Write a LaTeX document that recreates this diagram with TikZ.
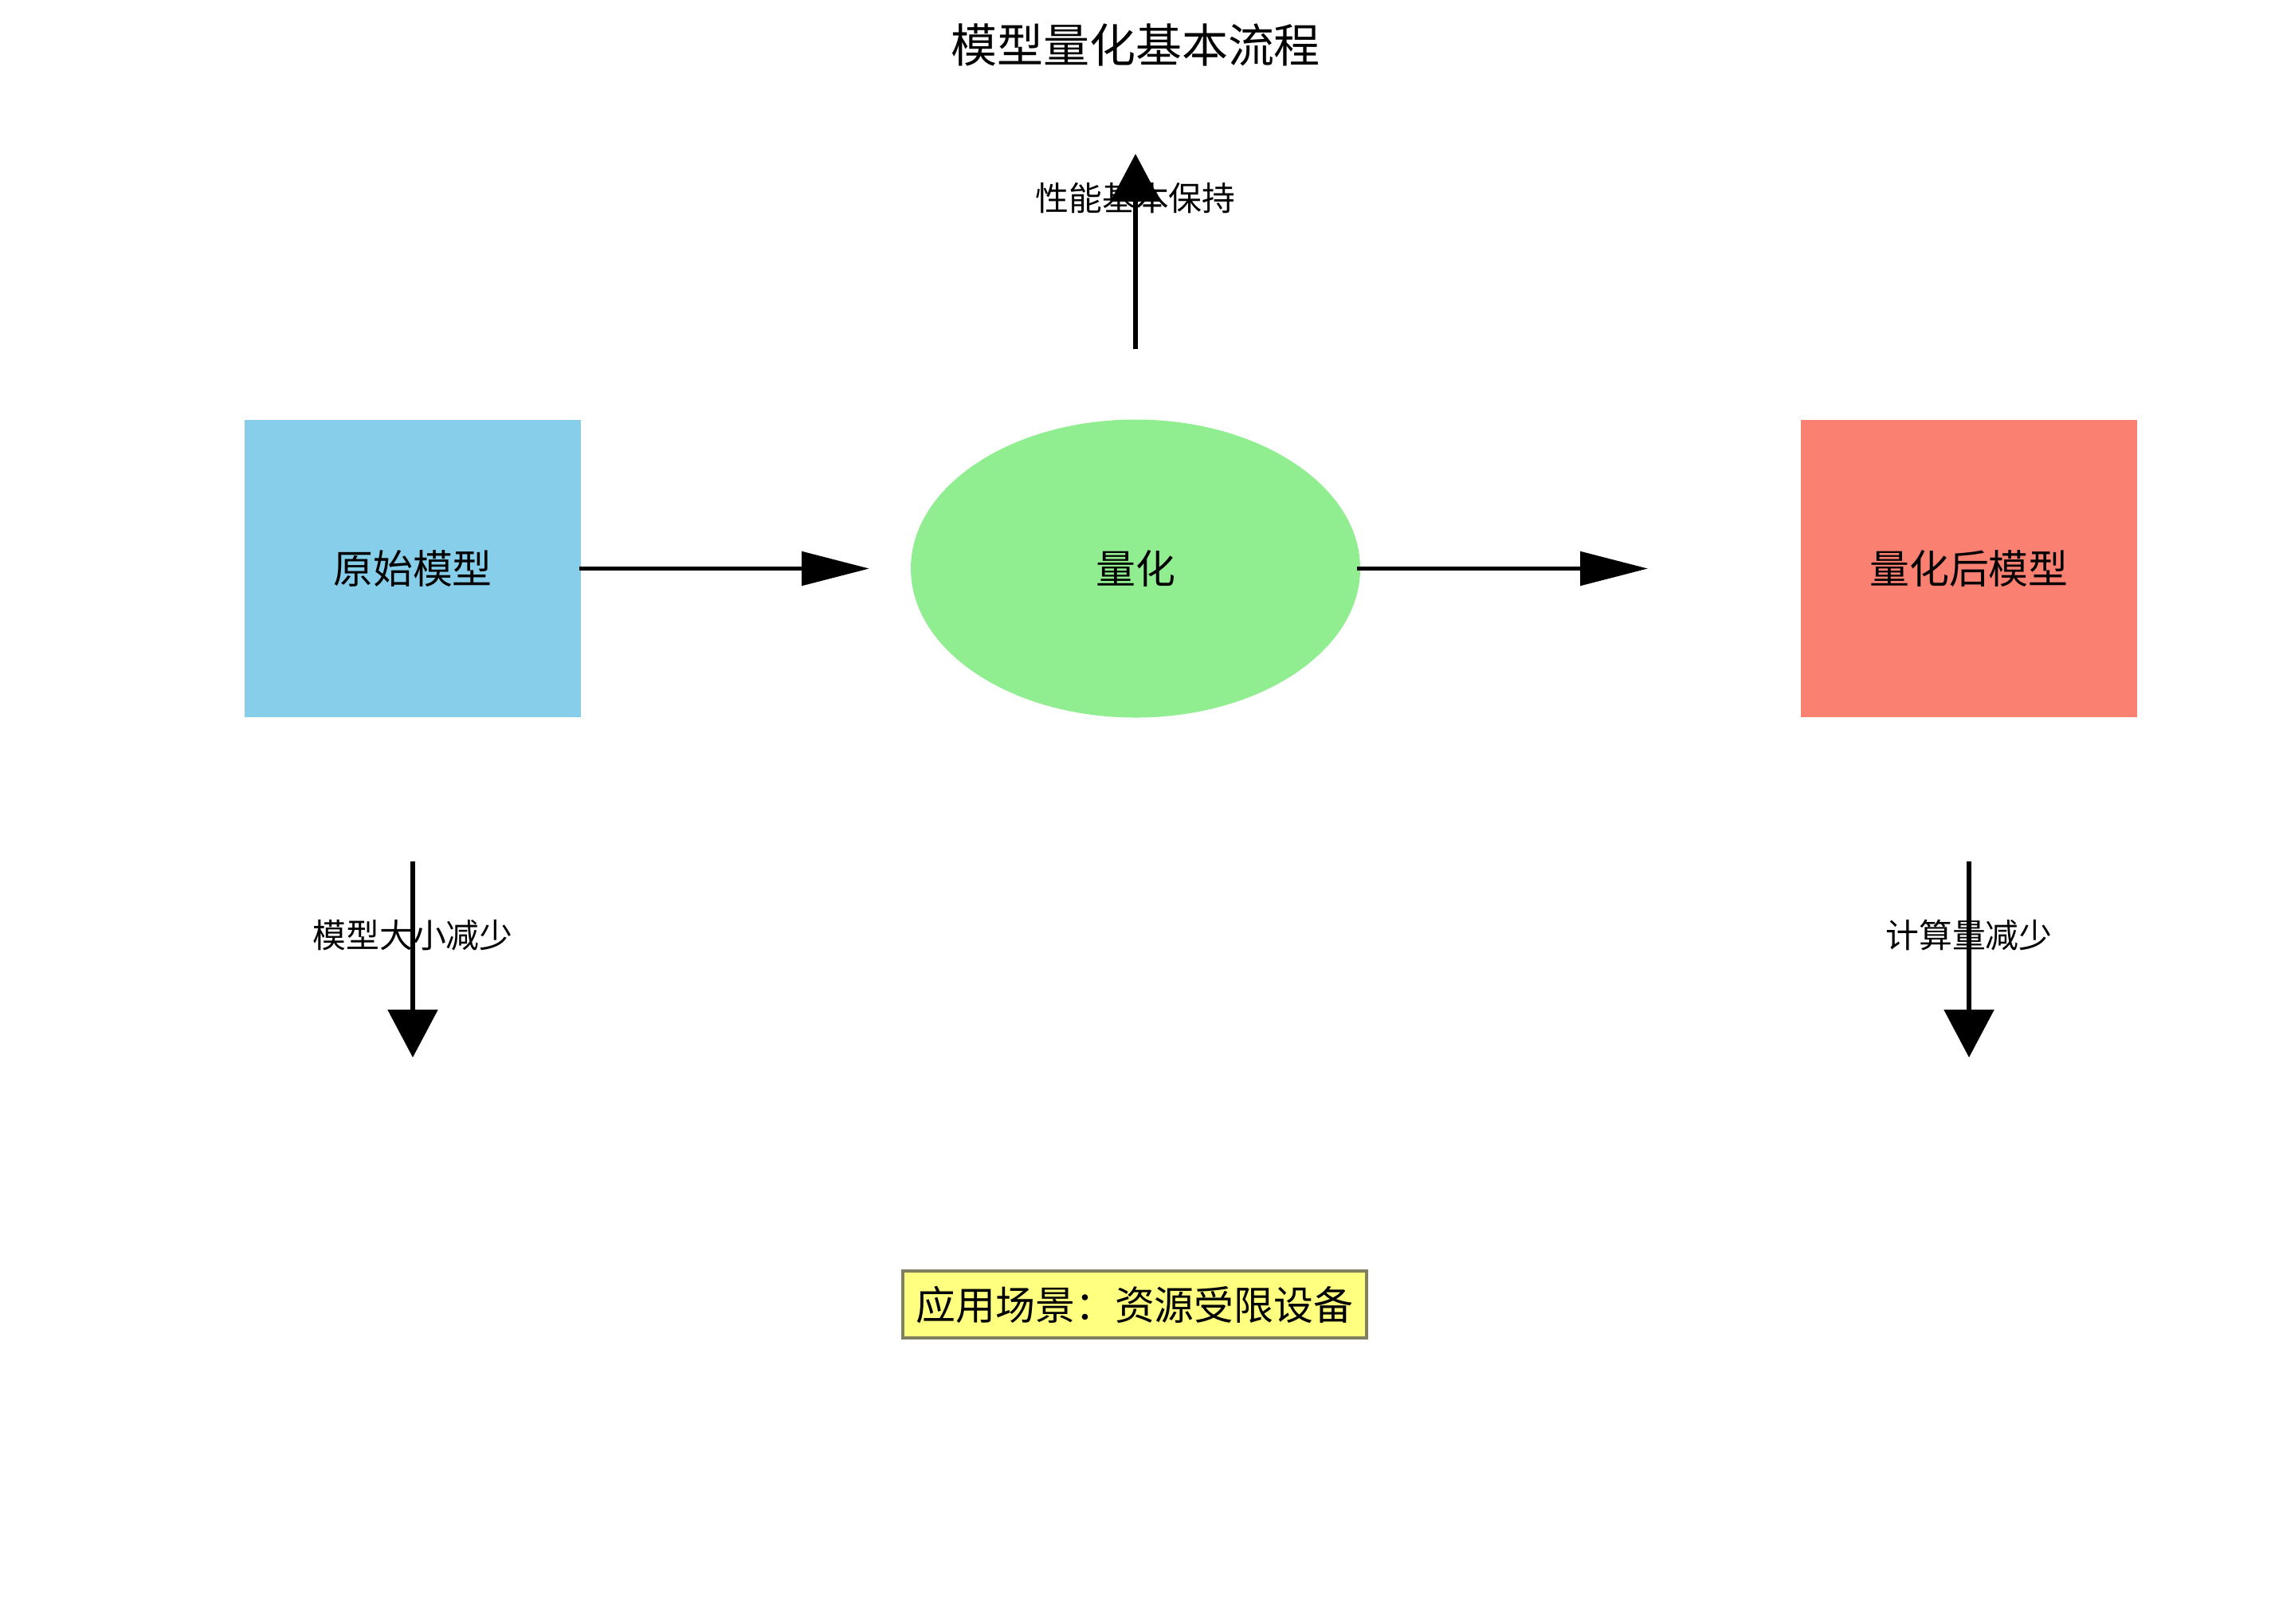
\documentclass[tikz,border=0pt]{standalone}
\usepackage{fontspec}
\setmainfont{Noto Sans CJK SC}
\usetikzlibrary{arrows.meta,shapes.geometric}
\definecolor{skyb}{HTML}{87CEEB}
\definecolor{lgreen}{HTML}{90EE90}
\definecolor{salm}{HTML}{FA8072}
\definecolor{noteyellow}{RGB}{255,255,128}
\definecolor{notegray}{RGB}{128,128,96}
\tikzset{
  box/.style={rectangle,minimum width=4.22cm,minimum height=3.73cm,inner sep=0pt,font=\fontsize{14.2pt}{16pt}\selectfont},
  oval/.style={ellipse,minimum width=5.64cm,minimum height=3.74cm,inner sep=0pt,fill=lgreen,font=\fontsize{14.2pt}{16pt}\selectfont},
  harrow/.style={line width=1.6pt,-{Triangle[length=0.85cm,width=0.42cm]}},
  varrow/.style={line width=1.6pt,-{Triangle[length=0.60cm,width=0.62cm]}},
  lbl/.style={font=\fontsize{11.9pt}{14pt}\selectfont,inner sep=0pt},
  note/.style={draw=notegray,line width=1.1pt,fill=noteyellow,minimum width=5.82cm,minimum height=0.84cm,inner sep=0pt,font=\fontsize{14.2pt}{16pt}\selectfont}
}
\begin{document}
\begin{tikzpicture}
\useasboundingbox (0,0) rectangle (28.5,-20.37);
\node[font=\fontsize{16.5pt}{19pt}\selectfont] (title) at (14.25,-0.56) {模型量化基本流程};
\node[box,fill=skyb] (orig) at (5.18,-7.135) {原始模型};
\node[oval] (quant) at (14.25,-7.135) {量化};
\node[box,fill=salm] (qmodel) at (24.71,-7.135) {量化后模型};
\coordinate (a1end) at (10.91,-7.135);
\coordinate (a2end) at (20.68,-7.135);
\coordinate (upstart) at (14.25,-4.38);
\coordinate (uptip) at (14.25,-1.93);
\coordinate (ldstart) at (5.18,-10.81);
\coordinate (ldtip) at (5.18,-13.27);
\coordinate (rdstart) at (24.71,-10.81);
\coordinate (rdtip) at (24.71,-13.27);
\draw[harrow] ([xshift=-0.03cm]orig.east) -- (a1end);
\draw[harrow] ([xshift=-0.05cm]quant.east) -- (a2end);
\node[lbl] (perf) at (14.25,-2.49) {性能基本保持};
\draw[varrow] (upstart) -- (uptip);
\draw[varrow] (ldstart) -- (ldtip);
\draw[varrow] (rdstart) -- (rdtip);
\node[lbl] (size) at (5.18,-11.74) {模型大小减少};
\node[lbl] (comp) at (24.71,-11.74) {计算量减少};
\node[note] (scene) at (14.24,-16.37) {应用场景：资源受限设备};
\end{tikzpicture}
\end{document}
